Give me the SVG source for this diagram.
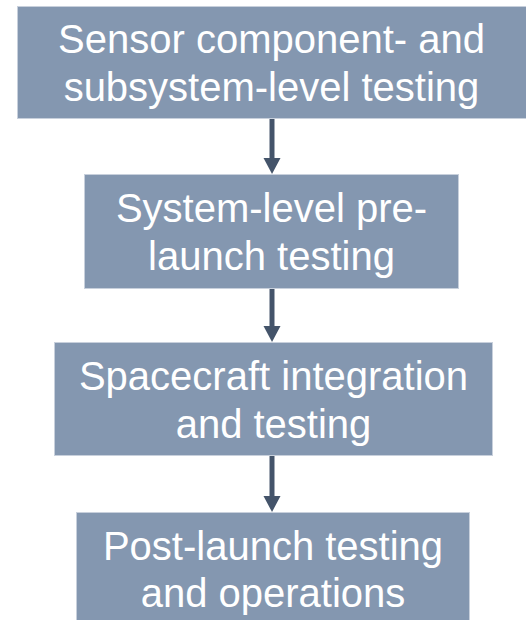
<svg xmlns="http://www.w3.org/2000/svg" width="526" height="620" viewBox="0 0 526 620">
  <style>
    .box { fill: #8497b0; stroke: #c8d0dc; stroke-width: 1; }
    .label { font-family: "Liberation Sans", Arial, sans-serif; font-size: 40px; fill: #ffffff; text-anchor: middle; }
    .link { stroke: #44546a; stroke-width: 5; fill: none; }
  </style>
  <defs>
    <marker id="head" markerWidth="17" markerHeight="16" refX="8.5" refY="15" orient="auto-start-reverse" markerUnits="userSpaceOnUse" viewBox="0 0 17 16">
      <path d="M0,0 L17,0 L8.5,16 Z" fill="#44546a" transform="rotate(0)"/>
    </marker>
  </defs>
  <rect width="526" height="620" fill="#ffffff"/>

  <g id="connectors">
    <line class="link" x1="272" y1="119" x2="272" y2="160"/>
    <path d="M263.5,158 L280.5,158 L272,174 Z" fill="#44546a"/>
    <line class="link" x1="272" y1="289" x2="272" y2="328"/>
    <path d="M263.5,326 L280.5,326 L272,342 Z" fill="#44546a"/>
    <line class="link" x1="272" y1="456" x2="272" y2="498"/>
    <path d="M263.5,496 L280.5,496 L272,512 Z" fill="#44546a"/>
  </g>

  <g id="node-sensor">
    <rect class="box" x="17.5" y="6.5" width="520" height="112"/>
    <text class="label" x="271.5" y="53">Sensor component- and</text>
    <text class="label" x="271.5" y="101">subsystem-level testing</text>
  </g>

  <g id="node-system">
    <rect class="box" x="84.5" y="174.5" width="374" height="114"/>
    <text class="label" x="271.5" y="222">System-level pre-</text>
    <text class="label" x="271.5" y="270">launch testing</text>
  </g>

  <g id="node-spacecraft">
    <rect class="box" x="54.5" y="342.5" width="438" height="113"/>
    <text class="label" x="273.5" y="390">Spacecraft integration</text>
    <text class="label" x="273.5" y="438">and testing</text>
  </g>

  <g id="node-postlaunch">
    <rect class="box" x="76.5" y="512.5" width="393" height="120"/>
    <text class="label" x="273" y="560">Post-launch testing</text>
    <text class="label" x="273" y="607">and operations</text>
  </g>
</svg>
